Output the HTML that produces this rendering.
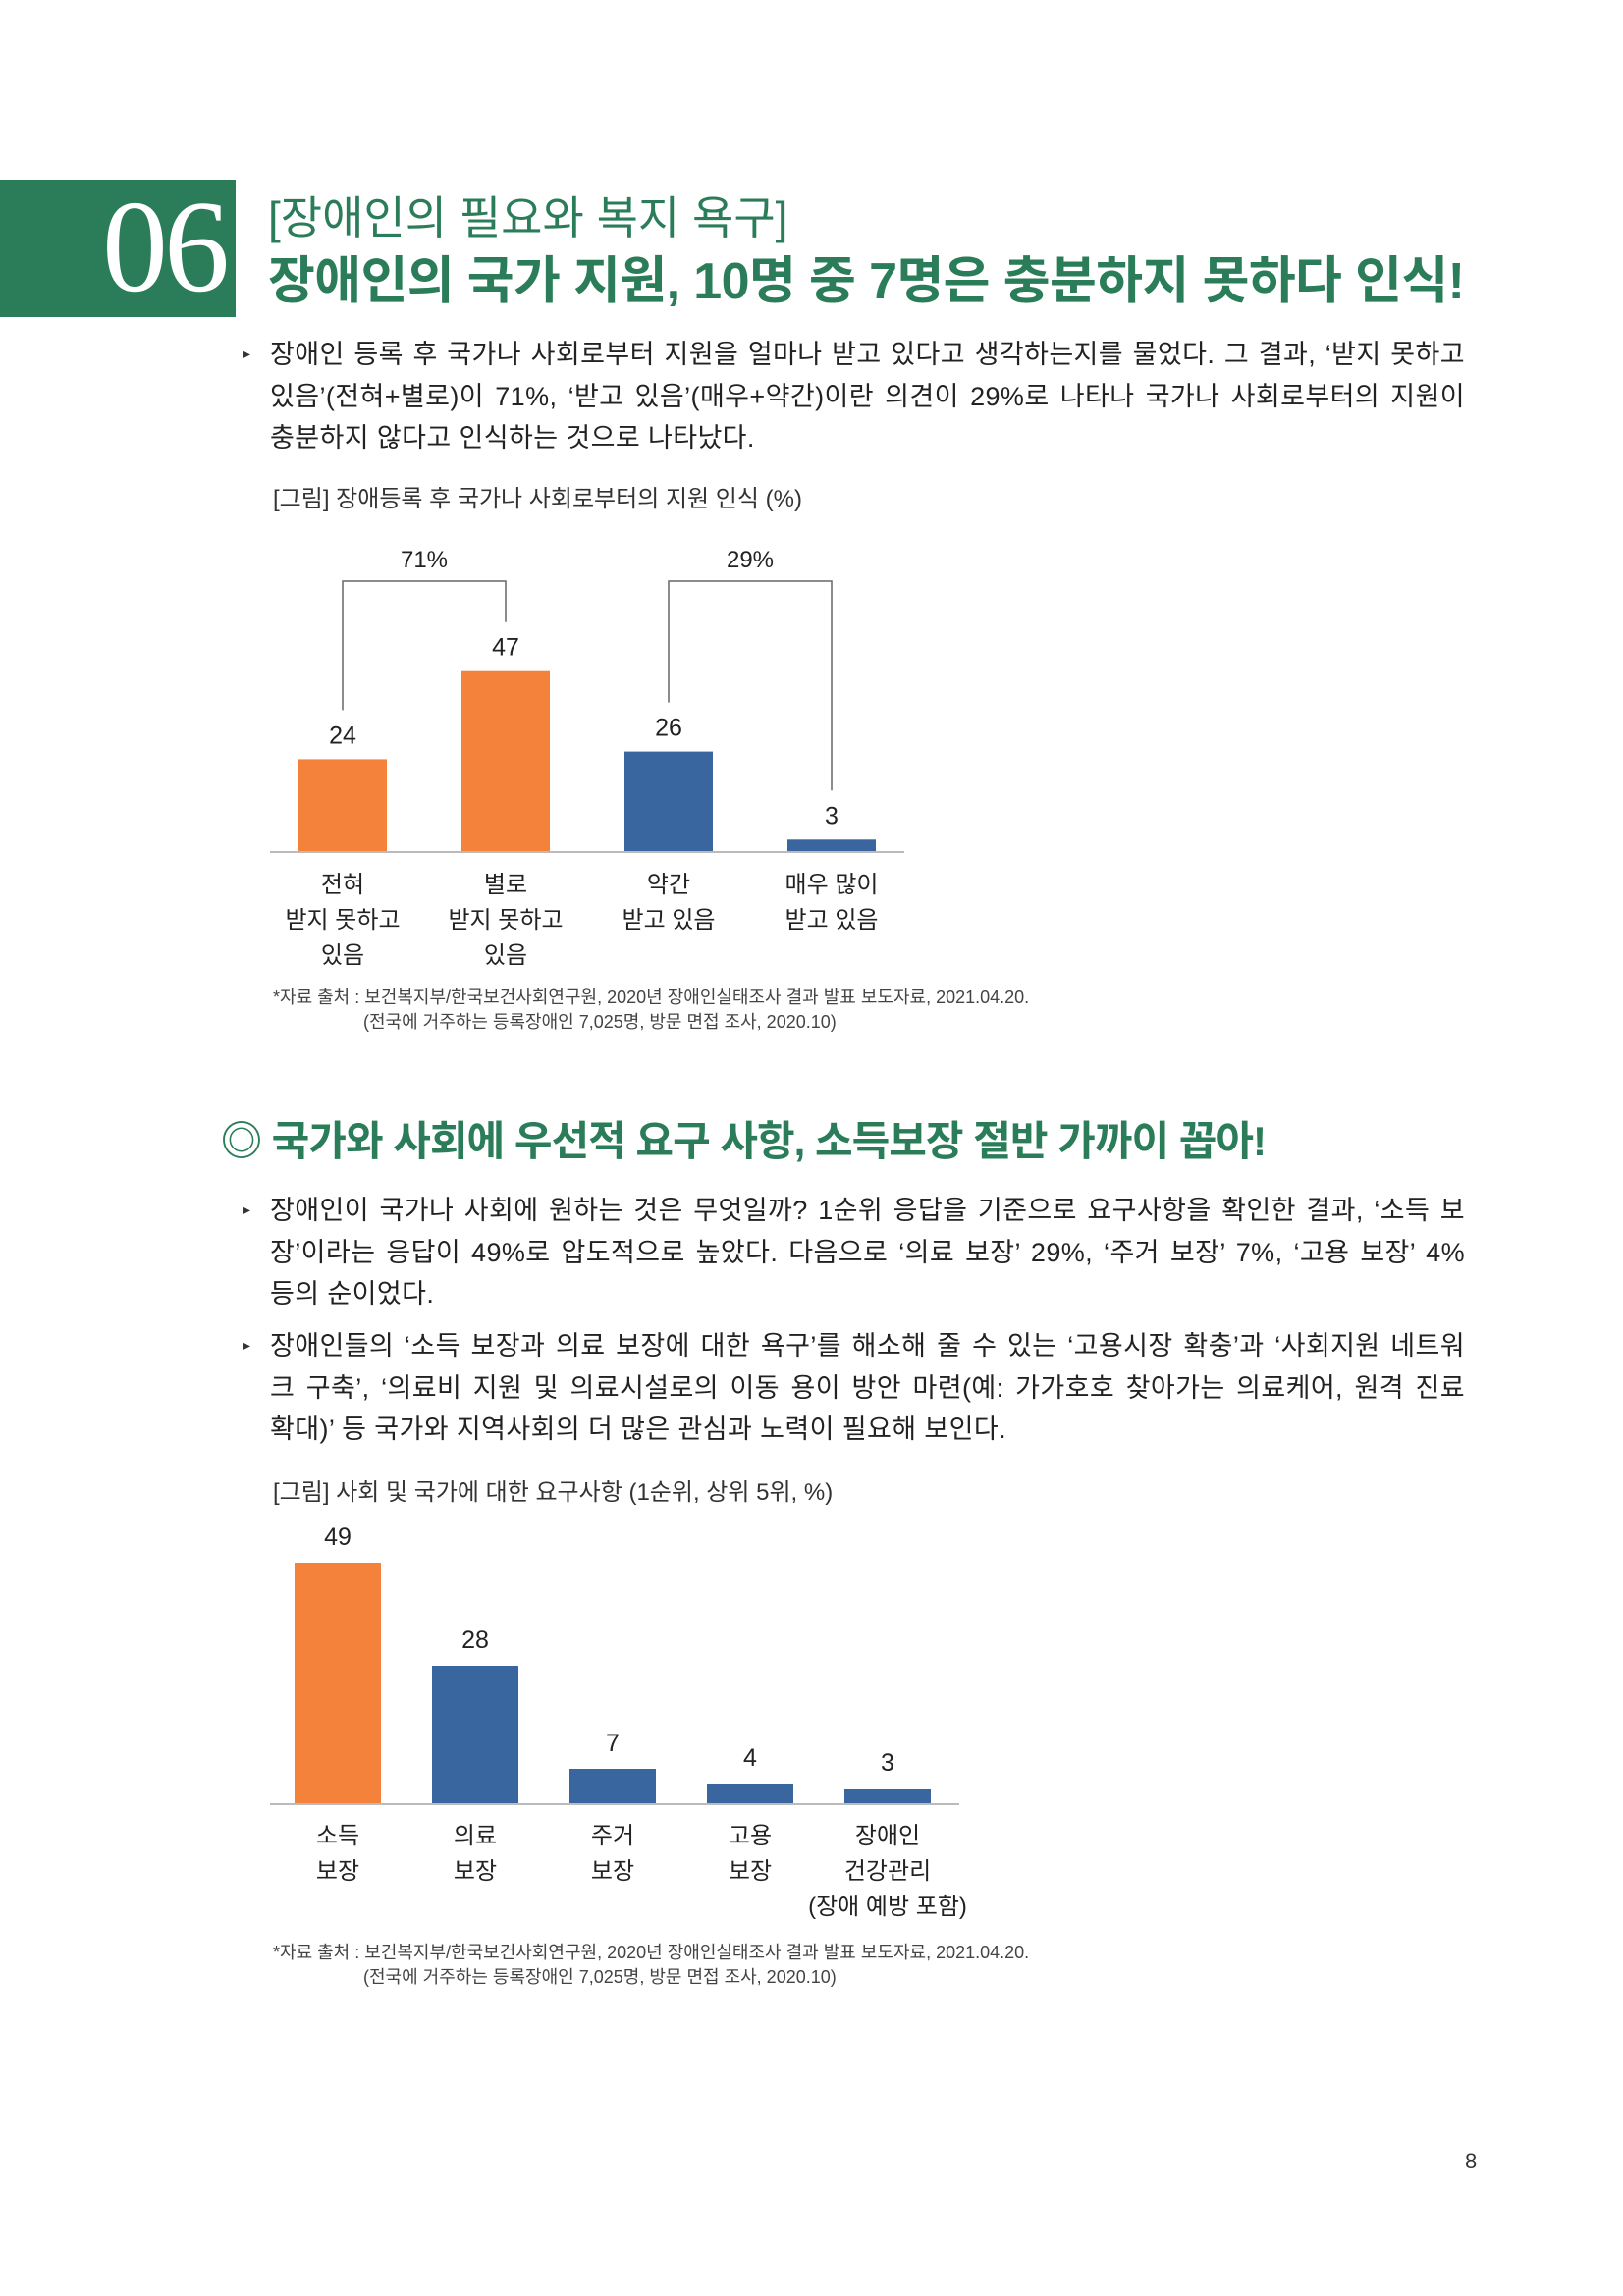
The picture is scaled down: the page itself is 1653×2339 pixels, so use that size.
<!DOCTYPE html>
<html><head><meta charset="utf-8">
<style>
body{margin:0;background:#fff;}
#page{position:relative;width:1653px;height:2339px;overflow:hidden;font-family:"Liberation Sans","Noto Sans CJK KR",sans-serif;color:#222;}
.t{position:absolute;white-space:nowrap;}
.p{position:absolute;left:275px;font-size:27px;line-height:42.5px;color:#222;white-space:nowrap;width:1217px;letter-spacing:0.4px;}
.p .j{text-align:justify;text-align-last:justify;}
.bul{position:absolute;left:248px;font-size:14px;color:#333;}
.src{position:absolute;left:278px;font-size:18px;color:#444;line-height:25px;}
</style></head><body>
<div id="page">
<div style="position:absolute;left:0;top:183px;width:240px;height:140px;background:#2B7D5A;"></div>
<div class="t" style="left:104px;top:186px;font-family:'Liberation Serif',serif;font-size:134px;line-height:130px;color:#fff;letter-spacing:-4px;">06</div>
<div class="t" style="left:273px;top:186px;font-size:46px;color:#2B7D5A;">[장애인의 필요와 복지 욕구]</div>
<div class="t" style="left:273px;top:244px;font-size:52px;font-weight:bold;color:#2B7D5A;letter-spacing:-0.6px;">장애인의 국가 지원, 10명 중 7명은 충분하지 못하다 인식!</div>

<div class="bul" style="top:352px;">▸</div>
<div class="p" style="top:340px;"><div class="j">장애인 등록 후 국가나 사회로부터 지원을 얼마나 받고 있다고 생각하는지를 물었다. 그 결과, ‘받지 못하고</div><div class="j">있음’(전혀+별로)이 71%, ‘받고 있음’(매우+약간)이란 의견이 29%로 나타나 국가나 사회로부터의 지원이</div><div>충분하지 않다고 인식하는 것으로 나타났다.</div></div>
<div class="t" style="left:278px;top:488px;font-size:24px;color:#333;">[그림] 장애등록 후 국가나 사회로부터의 지원 인식 (%)</div>

<svg id="c1" style="position:absolute;left:0;top:0" width="1653" height="1100"></svg>
<div class="src" style="top:1004px;">*자료 출처 : 보건복지부/한국보건사회연구원, 2020년 장애인실태조사 결과 발표 보도자료, 2021.04.20.<br><span style="padding-left:92px">(전국에 거주하는 등록장애인 7,025명, 방문 면접 조사, 2020.10)</span></div>

<div class="t" style="left:225px;top:1129px;font-size:42px;font-weight:bold;color:#2B7D5A;letter-spacing:-1px;">◎ 국가와 사회에 우선적 요구 사항, 소득보장 절반 가까이 꼽아!</div>
<div class="bul" style="top:1224px;">▸</div>
<div class="p" style="top:1212px;"><div class="j">장애인이 국가나 사회에 원하는 것은 무엇일까? 1순위 응답을 기준으로 요구사항을 확인한 결과, ‘소득 보</div><div class="j">장’이라는 응답이 49%로 압도적으로 높았다. 다음으로 ‘의료 보장’ 29%, ‘주거 보장’ 7%, ‘고용 보장’ 4%</div><div>등의 순이었다.</div></div>
<div class="bul" style="top:1362px;">▸</div>
<div class="p" style="top:1350px;"><div class="j">장애인들의 ‘소득 보장과 의료 보장에 대한 욕구’를 해소해 줄 수 있는 ‘고용시장 확충’과 ‘사회지원 네트워</div><div class="j">크 구축’, ‘의료비 지원 및 의료시설로의 이동 용이 방안 마련(예: 가가호호 찾아가는 의료케어, 원격 진료</div><div>확대)’ 등 국가와 지역사회의 더 많은 관심과 노력이 필요해 보인다.</div></div>
<div class="t" style="left:278px;top:1500px;font-size:24px;color:#333;">[그림] 사회 및 국가에 대한 요구사항 (1순위, 상위 5위, %)</div>

<svg id="c2" style="position:absolute;left:0;top:0" width="1653" height="2339"></svg>
<div class="src" style="top:1977px;">*자료 출처 : 보건복지부/한국보건사회연구원, 2020년 장애인실태조사 결과 발표 보도자료, 2021.04.20.<br><span style="padding-left:92px">(전국에 거주하는 등록장애인 7,025명, 방문 면접 조사, 2020.10)</span></div>
<div class="t" style="left:1492px;top:2189px;font-size:22px;color:#333;">8</div>
</div>
<script>
const NS='http://www.w3.org/2000/svg';
const c1Cats=[['전혀','받지 못하고','있음'],['별로','받지 못하고','있음'],['약간','받고 있음'],['매우 많이','받고 있음']];
const c1Vals=[24,47,26,3];
const c1Colors=['#F5823A','#F5823A','#3A66A0','#3A66A0'];
const c1Groups=['71%','29%'];
const c2Cats=[['소득','보장'],['의료','보장'],['주거','보장'],['고용','보장'],['장애인','건강관리','(장애 예방 포함)']];
const c2Vals=[49,28,7,4,3];
const c2Colors=['#F5823A','#3A66A0','#3A66A0','#3A66A0','#3A66A0'];
function mk(svg,tag,attrs,text){const e=document.createElementNS(NS,tag);for(const k in attrs)e.setAttribute(k,attrs[k]);if(text!==undefined)e.textContent=text;svg.appendChild(e);return e;}
// chart 1
(function(){
const svg=document.getElementById('c1');
const base=867,ppu=3.9,x0=349,step=166,bw=90;
const xc=i=>x0+i*step, y=v=>base-v*ppu;
let ax=mk(svg,'line',{x1:275,x2:921,y1:base+1,y2:base+1,stroke:'#bbb','stroke-width':2});

c1Vals.forEach((v,i)=>{
 let r=mk(svg,'rect',{x:xc(i)-bw/2,y:y(v),width:bw,height:v*ppu,fill:c1Colors[i]});
 
 let t=mk(svg,'text',{x:xc(i),y:y(v)-16,'text-anchor':'middle','font-size':25,fill:'#222'},v);
 
 c1Cats[i].forEach((s,j)=>{let l=mk(svg,'text',{x:xc(i),y:909+j*36,'text-anchor':'middle','font-size':24,fill:'#222'},s);
 });
});
const top=592;
c1Groups.forEach((g,k)=>{
 const a=2*k,b=2*k+1;
 const ya=y(c1Vals[a])-50, yb=y(c1Vals[b])-50;
 let p=mk(svg,'polyline',{points:`${xc(a)},${ya} ${xc(a)},${top} ${xc(b)},${top} ${xc(b)},${yb}`,fill:'none',stroke:'#666','stroke-width':1.5});
 
 let t=mk(svg,'text',{x:(xc(a)+xc(b))/2,y:top-14,'text-anchor':'middle','font-size':24,fill:'#222'},g);
 
});
})();
// chart 2
(function(){
const svg=document.getElementById('c2');
const base=1837,ppu=5.0,x0=344,step=140,bw=88;
const xc=i=>x0+i*step, y=v=>base-v*ppu;
let ax=mk(svg,'line',{x1:275,x2:977,y1:base+1,y2:base+1,stroke:'#bbb','stroke-width':2});

c2Vals.forEach((v,i)=>{
 let r=mk(svg,'rect',{x:xc(i)-bw/2,y:y(v),width:bw,height:v*ppu,fill:c2Colors[i]});
 
 let t=mk(svg,'text',{x:xc(i),y:y(v)-18,'text-anchor':'middle','font-size':25,fill:'#222'},v);
 
 c2Cats[i].forEach((s,j)=>{let l=mk(svg,'text',{x:xc(i),y:1878+j*36,'text-anchor':'middle','font-size':24,fill:'#222'},s);
 });
});
})();
</script>
</body></html>
